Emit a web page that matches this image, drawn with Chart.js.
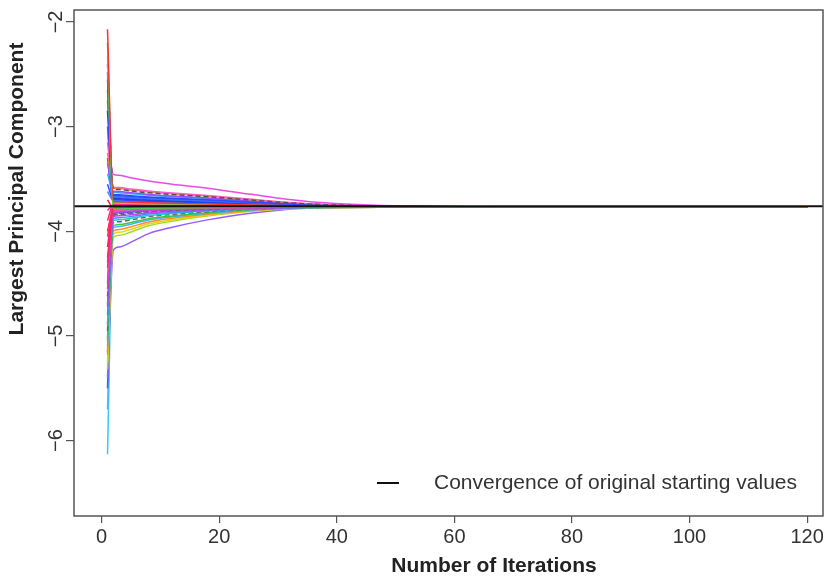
<!DOCTYPE html>
<html>
<head>
<meta charset="utf-8">
<script src="https://cdn.jsdelivr.net/npm/chart.js@4.4.1/dist/chart.umd.min.js"></script>
<style>
  html, body { margin: 0; padding: 0; background: #fff; }
  #wrap { position: relative; width: 829px; height: 578px; }
</style>
</head>
<body>
<div id="wrap"><canvas id="pcChart" width="829" height="578"></canvas></div>
<script>
'use strict';

// iteration numbers at which each run is recorded
const iterations = [1, 2, 3, 5, 8, 12, 18, 25, 35, 50, 70, 120];

// largest principal component per run (one array per starting value)
const run01 = [-2.07, -3.718, -3.719, -3.723, -3.728, -3.733, -3.739, -3.748, -3.759, -3.766, -3.768, -3.768];
const run02 = [-2.20, -3.788, -3.787, -3.784, -3.780, -3.777, -3.774, -3.771, -3.769, -3.768, -3.768, -3.768];
const run03 = [-2.32, -3.728, -3.729, -3.732, -3.736, -3.740, -3.745, -3.752, -3.761, -3.766, -3.768, -3.768];
const run04 = [-2.40, -3.598, -3.601, -3.615, -3.632, -3.649, -3.669, -3.700, -3.739, -3.761, -3.767, -3.768];
const run05 = [-2.48, -3.648, -3.650, -3.660, -3.672, -3.684, -3.698, -3.720, -3.748, -3.763, -3.767, -3.768];
const run06 = [-2.65, -3.668, -3.670, -3.678, -3.688, -3.698, -3.710, -3.728, -3.751, -3.764, -3.767, -3.768];
const run07 = [-2.85, -3.688, -3.690, -3.696, -3.704, -3.712, -3.722, -3.736, -3.754, -3.765, -3.768, -3.768];
const run08 = [-3.05, -3.458, -3.464, -3.489, -3.520, -3.551, -3.588, -3.644, -3.715, -3.756, -3.766, -3.768];
const run09 = [-3.15, -3.578, -3.582, -3.597, -3.616, -3.635, -3.658, -3.692, -3.736, -3.760, -3.767, -3.768];
const run10 = [-3.25, -3.588, -3.592, -3.606, -3.624, -3.642, -3.664, -3.696, -3.737, -3.761, -3.767, -3.768];
const run11 = [-3.35, -3.618, -3.621, -3.633, -3.648, -3.663, -3.681, -3.708, -3.742, -3.762, -3.767, -3.768];
const run12 = [-3.45, -3.628, -3.631, -3.642, -3.656, -3.670, -3.687, -3.712, -3.744, -3.762, -3.767, -3.768];
const run13 = [-3.55, -3.698, -3.699, -3.705, -3.712, -3.719, -3.727, -3.740, -3.756, -3.765, -3.768, -3.768];
const run14 = [-3.62, -3.708, -3.709, -3.714, -3.720, -3.726, -3.733, -3.744, -3.758, -3.766, -3.768, -3.768];
const run15 = [-3.90, -3.738, -3.739, -3.741, -3.744, -3.747, -3.751, -3.756, -3.763, -3.767, -3.768, -3.768];
const run16 = [-4.05, -3.748, -3.748, -3.750, -3.752, -3.754, -3.756, -3.760, -3.765, -3.767, -3.768, -3.768];
const run17 = [-4.15, -3.758, -3.758, -3.759, -3.760, -3.761, -3.762, -3.764, -3.766, -3.768, -3.768, -3.768];
const run18 = [-4.25, -3.778, -3.777, -3.776, -3.774, -3.773, -3.771, -3.770, -3.768, -3.768, -3.768, -3.768];
const run19 = [-4.35, -3.788, -3.787, -3.784, -3.780, -3.777, -3.774, -3.771, -3.769, -3.768, -3.768, -3.768];
const run20 = [-4.45, -3.798, -3.796, -3.793, -3.787, -3.782, -3.777, -3.773, -3.769, -3.768, -3.768, -3.768];
const run21 = [-4.55, -3.818, -3.815, -3.809, -3.799, -3.792, -3.783, -3.776, -3.770, -3.768, -3.768, -3.768];
const run22 = [-4.62, -3.838, -3.833, -3.825, -3.811, -3.801, -3.789, -3.779, -3.770, -3.768, -3.768, -3.768];
const run23 = [-4.72, -3.858, -3.852, -3.842, -3.824, -3.810, -3.795, -3.782, -3.771, -3.768, -3.768, -3.768];
const run24 = [-4.80, -3.878, -3.870, -3.858, -3.836, -3.820, -3.801, -3.785, -3.771, -3.769, -3.768, -3.768];
const run25 = [-4.88, -3.898, -3.889, -3.875, -3.849, -3.829, -3.807, -3.788, -3.772, -3.769, -3.768, -3.768];
const run26 = [-4.95, -3.918, -3.908, -3.891, -3.861, -3.839, -3.813, -3.791, -3.773, -3.769, -3.768, -3.768];
const run27 = [-5.02, -3.948, -3.935, -3.916, -3.880, -3.853, -3.822, -3.795, -3.773, -3.769, -3.768, -3.768];
const run28 = [-5.10, -3.968, -3.954, -3.932, -3.892, -3.862, -3.828, -3.798, -3.774, -3.769, -3.768, -3.768];
const run29 = [-5.18, -3.998, -3.982, -3.957, -3.911, -3.876, -3.837, -3.803, -3.775, -3.769, -3.768, -3.768];
const run30 = [-5.25, -4.028, -4.010, -3.981, -3.929, -3.890, -3.846, -3.807, -3.776, -3.769, -3.768, -3.768];
const run31 = [-5.32, -4.058, -4.038, -4.006, -3.948, -3.904, -3.855, -3.812, -3.777, -3.769, -3.768, -3.768];
const run32 = [-5.40, -4.178, -4.149, -4.104, -4.022, -3.961, -3.891, -3.830, -3.780, -3.770, -3.768, -3.768];
const run33 = [-5.50, -3.828, -3.824, -3.817, -3.805, -3.796, -3.786, -3.777, -3.770, -3.768, -3.768, -3.768];
const run34 = [-5.70, -3.808, -3.805, -3.801, -3.793, -3.787, -3.780, -3.774, -3.769, -3.768, -3.768, -3.768];
const run35 = [-6.13, -3.808, -3.805, -3.801, -3.793, -3.787, -3.780, -3.774, -3.769, -3.768, -3.768, -3.768];
const run36 = [-2.55, -3.658, -3.660, -3.669, -3.680, -3.691, -3.704, -3.724, -3.749, -3.764, -3.767, -3.768];
const run37 = [-2.75, -3.678, -3.680, -3.687, -3.696, -3.705, -3.716, -3.732, -3.753, -3.764, -3.768, -3.768];
const run38 = [-3.00, -3.703, -3.704, -3.709, -3.716, -3.722, -3.730, -3.742, -3.757, -3.765, -3.768, -3.768];
const run39 = [-3.30, -3.723, -3.724, -3.727, -3.732, -3.736, -3.742, -3.750, -3.760, -3.766, -3.768, -3.768];
const run40 = [-3.80, -3.748, -3.748, -3.750, -3.752, -3.754, -3.756, -3.760, -3.765, -3.767, -3.768, -3.768];
const run41 = [-3.70, -3.778, -3.777, -3.776, -3.774, -3.773, -3.771, -3.770, -3.768, -3.768, -3.768, -3.768];
const run42 = [-4.00, -3.798, -3.796, -3.793, -3.787, -3.782, -3.777, -3.773, -3.769, -3.768, -3.768, -3.768];
const run43 = [-4.30, -3.783, -3.782, -3.780, -3.777, -3.775, -3.773, -3.770, -3.768, -3.768, -3.768, -3.768];
const run44 = [-4.50, -3.793, -3.791, -3.789, -3.784, -3.780, -3.776, -3.772, -3.769, -3.768, -3.768, -3.768];
const run45 = [-4.70, -3.803, -3.801, -3.797, -3.790, -3.784, -3.779, -3.773, -3.769, -3.768, -3.768, -3.768];
const run46 = [-4.90, -3.813, -3.810, -3.805, -3.796, -3.789, -3.782, -3.775, -3.769, -3.768, -3.768, -3.768];
const run47 = [-5.05, -3.823, -3.819, -3.813, -3.802, -3.794, -3.785, -3.776, -3.770, -3.768, -3.768, -3.768];
const run48 = [-5.15, -3.848, -3.842, -3.834, -3.818, -3.806, -3.792, -3.780, -3.770, -3.768, -3.768, -3.768];

const runs = [
  run01, run02, run03, run04, run05, run06, run07, run08, run09, run10,
  run11, run12, run13, run14, run15, run16, run17, run18, run19, run20,
  run21, run22, run23, run24, run25, run26, run27, run28, run29, run30,
  run31, run32, run33, run34, run35, run36, run37, run38, run39, run40,
  run41, run42, run43, run44, run45, run46, run47, run48,
];

// value reached from the original starting values
const originalConvergence = -3.762;
const convergenceLabel = 'Convergence of original starting values';

const xRange = [-4.7, 122.7];
const yRange = [-6.72, -1.886];
const xTicks = [0, 20, 40, 60, 80, 100, 120];
const yTicks = [-6, -5, -4, -3, -2];

// line colours, one per run
const runColors = [
  '#ff3030', '#50d050', '#80e040', '#555555', '#2a4bff', '#3a6cff', '#1f3fe8', '#e64ce6',
  '#ff5ac8', '#f08a2a', '#9a4cff', '#2ab4ff', '#3050ff', '#5a8cff', '#ff2a8a', '#ff3060',
  '#ff1a70', '#ff2a50', '#f0307a', '#ff40a0', '#d040e0', '#666666', '#b04cff', '#3f8cff',
  '#20c8c8', '#666666', '#3cc83c', '#40b0ff', '#ff8c1a', '#e6d21a', '#a0dc28', '#9b5cff',
  '#3a5aff', '#50b4ff', '#38c8f0', '#2a50ff', '#3a70ff', '#4a6aff', '#2060ff', '#ff2a8a',
  '#ff1a4a', '#ff0066', '#ff2080', '#ff2040', '#ff40b0', '#e040d0', '#ff3070', '#666666',
];
// runs drawn with a dashed line (1-based)
const dashedRuns = [4, 22, 26, 48];

const FONT = '"Liberation Sans", Arial, Helvetica, sans-serif';
const INK = '#333333';

function minusLabel(v) {
  return v < 0 ? '\u2212' + Math.abs(v) : String(v);
}

// plot frame, axis titles and the inset legend
const framePlugin = {
  id: 'frame',
  afterDraw(chart) {
    const { ctx, chartArea: a } = chart;
    ctx.save();
    ctx.strokeStyle = '#555';
    ctx.lineWidth = 1.5;
    ctx.strokeRect(a.left, a.top, a.right - a.left, a.bottom - a.top);

    ctx.fillStyle = '#222';
    ctx.font = 'bold 21px ' + FONT;
    ctx.textAlign = 'center';
    ctx.textBaseline = 'middle';
    ctx.fillText('Number of Iterations', a.left + 420, a.bottom + 50);

    ctx.translate(17, a.top + 179);
    ctx.rotate(-Math.PI / 2);
    ctx.fillText('Largest Principal Component', 0, 0);
    ctx.restore();

    ctx.save();
    ctx.font = '21px ' + FONT;
    const w = ctx.measureText(convergenceLabel).width;
    const tx = a.right - 26 - w;
    const ty = a.bottom - 33;
    ctx.strokeStyle = '#111';
    ctx.lineWidth = 2;
    ctx.beginPath();
    ctx.moveTo(tx - 57, ty);
    ctx.lineTo(tx - 35, ty);
    ctx.stroke();
    ctx.fillStyle = INK;
    ctx.textAlign = 'left';
    ctx.textBaseline = 'middle';
    ctx.fillText(convergenceLabel, tx, ty);
    ctx.restore();
  },
};

const runDatasets = runs.map((vals, i) => ({
  label: 'run ' + (i + 1),
  data: iterations.map((it, k) => ({ x: it, y: vals[k] })),
  borderColor: runColors[i],
  borderWidth: 1.5,
  borderDash: dashedRuns.includes(i + 1) ? [5, 3] : [],
  pointRadius: 0,
  cubicInterpolationMode: 'monotone',
  fill: false,
}));

// dataset 0 is drawn last, so the reference line sits on top
const datasets = [
  {
    label: convergenceLabel,
    data: [{ x: xRange[0], y: originalConvergence }, { x: xRange[1], y: originalConvergence }],
    borderColor: '#111',
    borderWidth: 2,
    pointRadius: 0,
    fill: false,
  },
  ...runDatasets,
];

new Chart(document.getElementById('pcChart').getContext('2d'), {
  type: 'line',
  data: { datasets },
  options: {
    responsive: false,
    animation: false,
    events: [],
    layout: { padding: { top: 5, right: 6, left: 0, bottom: 0 } },
    plugins: { legend: { display: false }, tooltip: { enabled: false } },
    scales: {
      x: {
        type: 'linear',
        min: xRange[0],
        max: xRange[1],
        afterBuildTicks: s => { s.ticks = xTicks.map(v => ({ value: v })); },
        afterFit: s => { s.height = 62; },
        border: { display: false },
        grid: { drawOnChartArea: false, drawTicks: true, tickLength: 7, color: '#555', lineWidth: 1.2 },
        ticks: { color: INK, font: { family: FONT, size: 20 }, padding: 2, maxRotation: 0, callback: v => minusLabel(v) },
      },
      y: {
        type: 'linear',
        min: yRange[0],
        max: yRange[1],
        afterBuildTicks: s => { s.ticks = yTicks.map(v => ({ value: v })); },
        afterFit: s => { s.width = 74; },
        border: { display: false },
        grid: { drawOnChartArea: false, drawTicks: true, tickLength: 8, color: '#555', lineWidth: 1.2 },
        ticks: {
          color: INK, font: { family: FONT, size: 20 }, padding: -2,
          minRotation: 90, maxRotation: 90, crossAlign: 'center',
          callback: v => minusLabel(v),
        },
      },
    },
  },
  plugins: [framePlugin],
});
</script>
</body>
</html>
